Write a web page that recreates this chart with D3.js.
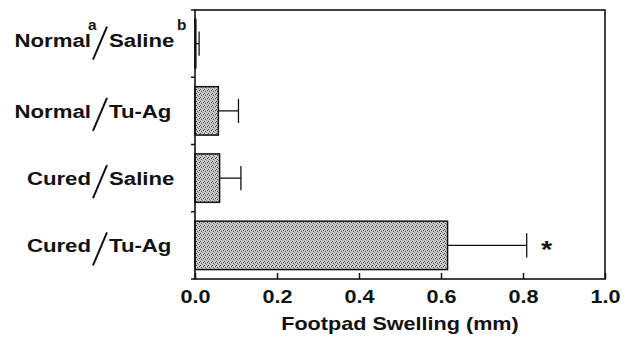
<!DOCTYPE html>
<html>
<head>
<meta charset="utf-8">
<script src="https://cdn.jsdelivr.net/npm/d3@7"></script>
<style>
  body { margin: 0; background: #fff; }
  text { font-family: "Liberation Sans", Arial, Helvetica, sans-serif; font-weight: bold; fill: #111; }
</style>
</head>
<body>
<div id="chart"></div>
<script>
// groups: mouse / injection
var groups_mouse = ['Normal', 'Normal', 'Cured', 'Cured'];
var groups_inject = ['Saline', 'Tu-Ag', 'Saline', 'Tu-Ag'];
var swelling = [0.002, 0.057, 0.060, 0.616];
var swelling_err = [0.008, 0.049, 0.052, 0.193];
var signif = [false, false, false, true];
var x_ticks = [0.0, 0.2, 0.4, 0.6, 0.8, 1.0];
var x_title = 'Footpad Swelling (mm)';

var WIDTH = 635, HEIGHT = 339;
var SX = 1.2; // the scanned lettering is wide

var margin = { top: 10, left: 195, bottom: 60, right: 30 };
var width = WIDTH - margin.left - margin.right;
var height = HEIGHT - margin.top - margin.bottom;

var keys = groups_mouse.map(function(d, i) { return i; });

var sx = d3.scaleLinear().domain([0, 1]).range([0, width]);
var sy = d3.scaleBand().domain(keys).range([0, height])
    .paddingInner(0.28).paddingOuter(0.14);

var svg = d3.select('#chart').append('svg')
    .attr('width', WIDTH)
    .attr('height', HEIGHT);

// stippled grey like the halftone in the scan
var defs = svg.append('defs');
var pat = defs.append('pattern')
    .attr('id', 'dots')
    .attr('patternUnits', 'userSpaceOnUse')
    .attr('width', 4).attr('height', 4);
pat.append('rect').attr('width', 4).attr('height', 4).attr('fill', '#cbcbcb');
[[0, 0, '#3a3a3a'], [2, 1, '#555'], [1, 3, '#444'], [3, 2, '#888']].forEach(function(p) {
    pat.append('rect').attr('x', p[0]).attr('y', p[1])
        .attr('width', 1).attr('height', 1).attr('fill', p[2]);
});

var g = svg.append('g')
    .attr('transform', 'translate(' + margin.left + ',' + margin.top + ')');

// wide text helper
function wtext(parent, x, y, str, size, anchor, sxs) {
    return parent.append('text')
        .attr('transform', 'translate(' + x + ',' + y + ') scale(' + (sxs || SX) + ',1)')
        .attr('text-anchor', anchor || 'start')
        .style('font-size', size + 'px')
        .text(str);
}

// bars
g.selectAll('.bar').data(keys).enter()
    .append('rect')
    .attr('class', 'bar')
    .attr('x', 0)
    .attr('y', function(i) { return sy(i); })
    .attr('width', function(i) { return sx(swelling[i]); })
    .attr('height', sy.bandwidth())
    .attr('fill', 'url(#dots)')
    .attr('stroke', '#111')
    .attr('stroke-width', 1.5);

// error bars
var capH = sy.bandwidth() * 0.5;
keys.forEach(function(i) {
    var cy = sy(i) + sy.bandwidth() / 2;
    var x0 = sx(swelling[i]);
    var x1 = sx(swelling[i] + swelling_err[i]);
    g.append('line')
        .attr('x1', x0).attr('x2', x1).attr('y1', cy).attr('y2', cy)
        .attr('stroke', '#111').attr('stroke-width', 1.3);
    g.append('line')
        .attr('x1', x1).attr('x2', x1).attr('y1', cy - capH / 2).attr('y2', cy + capH / 2)
        .attr('stroke', '#111').attr('stroke-width', 1.3);
    if (signif[i]) {
        wtext(g, x1 + 20, cy + 13, '*', 24, 'middle');
    }
});

// frame
g.append('rect')
    .attr('x', 0).attr('y', 0)
    .attr('width', sx(1)).attr('height', height)
    .attr('fill', 'none')
    .attr('stroke', '#111')
    .attr('stroke-width', 1.6);

// x axis
var ax = d3.axisBottom(sx)
    .tickValues(x_ticks)
    .tickSizeInner(-6)
    .tickSizeOuter(0)
    .tickFormat(d3.format('.1f'));
var gx = g.append('g')
    .attr('transform', 'translate(0,' + height + ')')
    .call(ax);
gx.select('.domain').remove();
gx.selectAll('.tick line').attr('stroke', '#111').attr('stroke-width', 1.5);
gx.selectAll('.tick text').remove();
gx.selectAll('.tick').each(function(d) {
    wtext(d3.select(this), 0, 24, d3.format('.1f')(d), 18, 'middle');
});

wtext(g, width / 2, height + 51, x_title, 18, 'middle');

// y ticks at the band edges, pointing out
var step = sy.step();
var edges = keys.map(function(i) { return sy(i) - (step - sy.bandwidth()) / 2; });
edges.push(height);
g.selectAll('.ytick').data(edges).enter()
    .append('line')
    .attr('class', 'ytick')
    .attr('x1', -4).attr('x2', 0)
    .attr('y1', function(d) { return d; })
    .attr('y2', function(d) { return d; })
    .attr('stroke', '#111').attr('stroke-width', 1.5);

// category labels: mouse / injection
var lab = svg.append('g');
keys.forEach(function(i) {
    var base = margin.top + sy(i) + sy.bandwidth() / 2 + 7;
    if (i === 0) base -= 4;
    wtext(lab, 91, base, groups_mouse[i], 18.5, 'end');
    lab.append('line')
        .attr('x1', 93).attr('y1', base + 13)
        .attr('x2', 107).attr('y2', base - 20)
        .attr('stroke', '#111').attr('stroke-width', 2);
    wtext(lab, 109, base, groups_inject[i], 18.5, 'start');
    if (i === 0) {
        wtext(lab, 88, base - 17, 'a', 14, 'start', 1.1);
        wtext(lab, 177, base - 17, 'b', 14, 'start', 1.1);
    }
});
</script>
</body>
</html>
